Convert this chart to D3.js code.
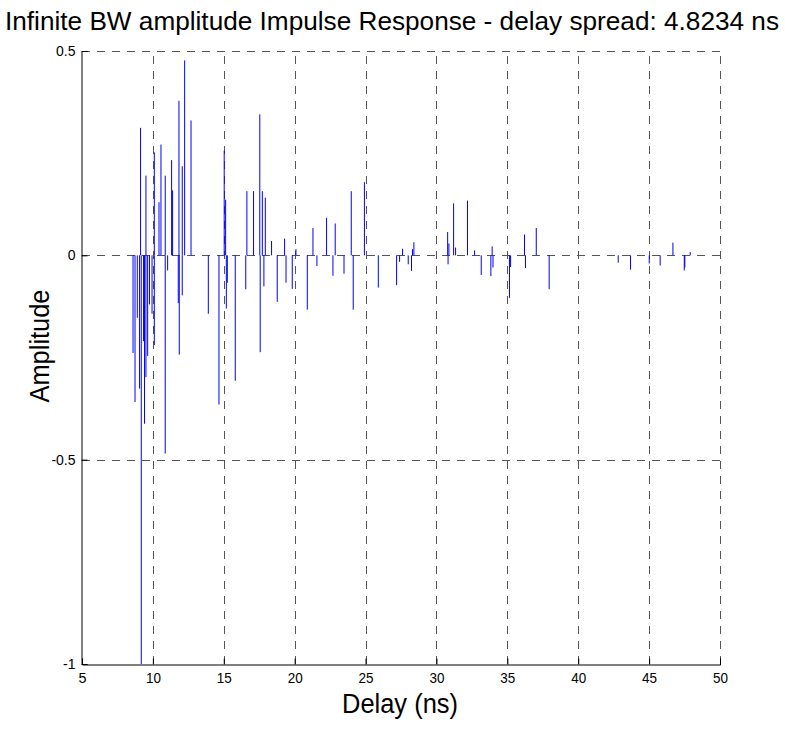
<!DOCTYPE html>
<html>
<head>
<meta charset="utf-8">
<script src="https://cdnjs.cloudflare.com/ajax/libs/d3/7.8.5/d3.min.js"></script>
<style>
body { margin:0; background:#fff; }
text { font-family: "Liberation Sans", Arial, sans-serif; fill:#000; }
</style>
</head>
<body>
<div id="chart"></div>
<script>
var title = "Infinite BW amplitude Impulse Response - delay spread: 4.8234 ns"
var xLabel = "Delay (ns)"
var yLabel = "Amplitude"
var xTicks = [5,10,15,20,25,30,35,40,45,50]
var yTicks = [-1,-0.5,0,0.5]
var yTickLabels = ["-1","-0.5","0","0.5"]

// delays (ns) and amplitudes of each path
var delay = [8.60,8.74,8.90,9.06,9.13,9.18,9.34,9.41,9.51,9.51,9.63,9.76,9.94,10.10,10.10,10.43,10.57,10.87,10.87,11.04,
	11.32,11.39,11.79,11.84,11.86,12.07,12.07,12.24,12.69,13.91,14.66,15.03,15.13,15.18,15.25,15.81,16.55,16.63,17.10,17.54,
	17.57,17.72,17.83,17.93,18.37,18.77,19.29,19.39,19.83,20.09,20.89,21.29,21.57,22.25,22.70,22.86,23.48,23.99,24.13,24.92,
	25.90,27.19,27.40,27.61,28.01,28.24,28.31,28.41,30.79,30.82,30.88,31.21,31.35,32.19,32.69,33.16,33.84,33.93,33.99,35.15,
	35.23,36.21,36.28,37.04,37.95,42.82,43.69,45.01,45.78,46.68,47.48,47.52,47.90]
var amplitude = [-0.239,-0.359,-0.153,-0.326,0.312,-1.0,-0.21,-0.412,-0.298,0.195,-0.246,-0.12,-0.143,0.252,-0.22,0.13,0.271,0.195,-0.485,-0.037,
	0.233,0.159,-0.117,0.378,-0.243,0.218,-0.098,0.477,0.33,-0.143,-0.365,0.256,0.136,-0.13,-0.067,-0.307,-0.083,0.157,0.157,0.345,
	-0.237,0.157,-0.076,0.141,0.035,-0.114,0.041,-0.067,-0.082,0.015,-0.133,0.067,-0.026,0.092,-0.05,0.078,-0.045,0.157,-0.133,0.179,
	-0.079,-0.073,-0.016,0.016,-0.022,-0.038,0.015,0.032,0.057,-0.022,0.029,0.127,0.019,0.134,0.012,-0.048,-0.051,0.022,-0.03,-0.104,
	-0.029,0.051,-0.031,0.067,-0.083,-0.018,-0.035,-0.02,-0.025,0.031,-0.037,-0.03,0.008]

var width = 785, height = 729
var mLeft = 82, mRight = 720, mTop = 51, mBottom = 664

var svg = d3.select("#chart").append("svg").attr("width",width).attr("height",height)

var x = d3.scaleLinear().domain([5,50]).range([mLeft,mRight])
var y = d3.scaleLinear().domain([-1,0.5]).range([mBottom,mTop])

// grid
var grid = svg.append("g").attr("class","grid")
grid.selectAll("line.gx").data(xTicks.slice(1)).enter().append("line")
	.attr("x1",function(d){return Math.round(x(d))+0.5}).attr("x2",function(d){return Math.round(x(d))+0.5})
	.attr("y1",mBottom).attr("y2",mTop)
	.attr("stroke","#555").attr("stroke-dasharray","8,7")
grid.selectAll("line.gy").data(yTicks.slice(1)).enter().append("line")
	.attr("x1",mLeft).attr("x2",mRight)
	.attr("y1",function(d){return Math.round(y(d))+0.5}).attr("y2",function(d){return Math.round(y(d))+0.5})
	.attr("stroke","#555").attr("stroke-dasharray","8,7")

// stems
svg.append("g").selectAll("line").data(delay).enter().append("line")
	.attr("x1",function(d){return x(d)}).attr("x2",function(d){return x(d)})
	.attr("y1",y(0))
	.attr("y2",function(d,i){return y(amplitude[i])})
	.attr("stroke","#0000ff").attr("stroke-width",1)

// axes
var xAxis = d3.axisBottom(x).tickValues(xTicks).tickSize(-6).tickPadding(9)
var yAxis = d3.axisLeft(y).tickValues(yTicks).tickSize(-6).tickPadding(6)
	.tickFormat(function(d,i){return yTickLabels[i]})

var gx = svg.append("g").attr("transform","translate(0,"+(mBottom+0.5)+")").call(xAxis)
var gy = svg.append("g").attr("transform","translate("+(mLeft-0.5)+",0)").call(yAxis)
;[gx,gy].forEach(function(g){
	g.select(".domain").attr("stroke","#000")
	g.selectAll(".tick line").attr("stroke","#000")
	g.selectAll(".tick text").style("font-size","14px").attr("fill","#000")
})
gx.selectAll(".tick text").attr("textLength",function(d){return d<10?8:15}).attr("lengthAdjust","spacingAndGlyphs")

// labels
svg.append("text").text(title)
	.attr("x",392).attr("y",30)
	.attr("text-anchor","middle")
	.attr("textLength",774).attr("lengthAdjust","spacingAndGlyphs")
	.style("font-size","26px")

svg.append("text").text(xLabel)
	.attr("x",400).attr("y",713)
	.attr("text-anchor","middle")
	.attr("textLength",116).attr("lengthAdjust","spacingAndGlyphs")
	.style("font-size","27px")

svg.append("text").text(yLabel)
	.attr("transform","translate(49,346) rotate(-90)")
	.attr("text-anchor","middle")
	.attr("textLength",113).attr("lengthAdjust","spacingAndGlyphs")
	.style("font-size","27px")
</script>
</body>
</html>
